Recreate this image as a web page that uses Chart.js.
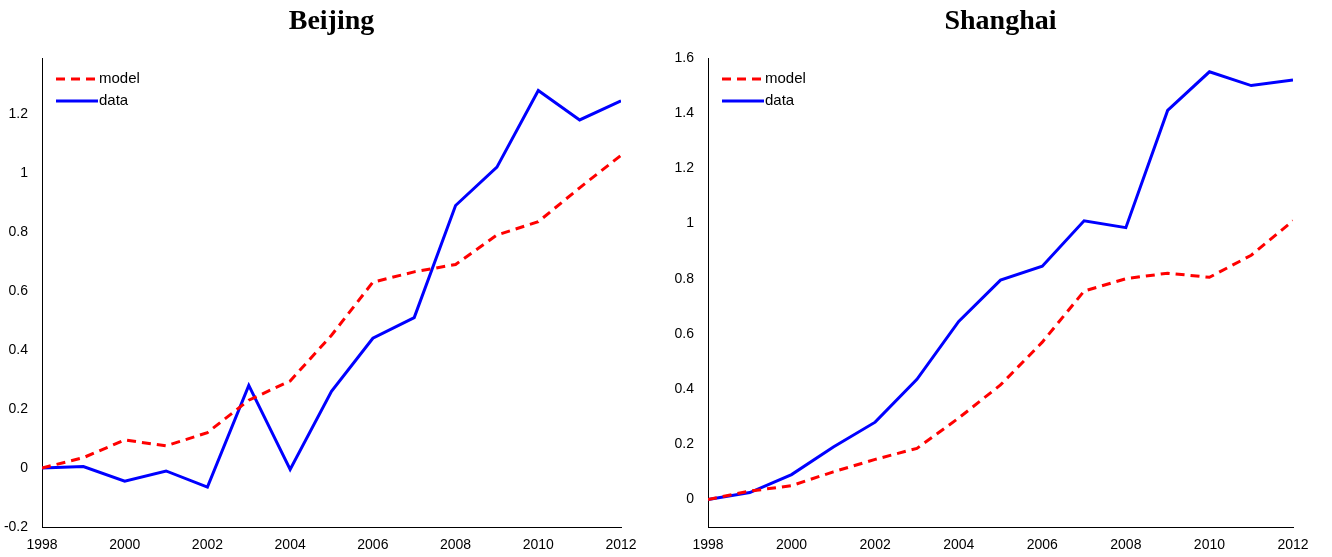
<!DOCTYPE html>
<html>
<head>
<meta charset="utf-8">
<script src="https://cdn.jsdelivr.net/npm/chart.js@4/dist/chart.umd.min.js"></script>
<style>
  body { margin: 0; background: #fff; }
  .wrap { display: flex; width: 1332px; height: 557px; }
  .box { position: relative; width: 666px; height: 557px; }
</style>
</head>
<body>
<div class="wrap">
  <div class="box"><canvas id="bj"></canvas></div>
  <div class="box"><canvas id="sh"></canvas></div>
</div>
<script>
const years = [1998, 1999, 2000, 2001, 2002, 2003, 2004, 2005, 2006, 2007, 2008, 2009, 2010, 2011, 2012];

const beijingModel = [0, 0.035, 0.095, 0.075, 0.12, 0.23, 0.295, 0.45, 0.63, 0.665, 0.69, 0.79, 0.835, 0.95, 1.06];
const beijingData = [0, 0.005, -0.045, -0.01, -0.065, 0.28, -0.005, 0.26, 0.44, 0.51, 0.89, 1.02, 1.28, 1.18, 1.245];

const shanghaiModel = [0, 0.03, 0.05, 0.10, 0.145, 0.185, 0.295, 0.415, 0.57, 0.755, 0.80, 0.82, 0.805, 0.885, 1.01];
const shanghaiData = [0, 0.025, 0.09, 0.19, 0.28, 0.435, 0.645, 0.795, 0.845, 1.01, 0.985, 1.41, 1.55, 1.50, 1.52];

const FONT = "'Liberation Sans', Arial, sans-serif";

// title + MATLAB-style legend drawn in the top-left corner
const decor = {
  id: 'decor',
  afterDraw(chart, args, opts) {
    const ctx = chart.ctx, a = chart.chartArea;
    ctx.save();
    ctx.fillStyle = '#000';
    ctx.font = "bold 28px 'Liberation Serif', 'DejaVu Serif', serif";
    ctx.textAlign = 'center';
    ctx.textBaseline = 'middle';
    ctx.fillText(opts.title, (a.left + a.right) / 2, 22);
    ctx.font = '15px ' + FONT;
    ctx.textAlign = 'left';
    chart.data.datasets.forEach((ds, i) => {
      const y = 79 + i * 22;
      ctx.strokeStyle = ds.borderColor;
      ctx.lineWidth = 3;
      ctx.setLineDash(ds.borderDash || []);
      ctx.beginPath();
      ctx.moveTo(a.left + 14, y);
      ctx.lineTo(a.left + 56, y);
      ctx.stroke();
      ctx.setLineDash([]);
      ctx.fillStyle = '#000';
      ctx.fillText(ds.label, a.left + 57, y);
    });
    ctx.restore();
  }
};

function makeChart(id, title, model, data, ymin, ymax, rightPad) {
  new Chart(document.getElementById(id), {
    type: 'line',
    data: {
      datasets: [
        { label: 'model', data: years.map((x, i) => ({ x, y: model[i] })),
          borderColor: '#ff0000', borderDash: [9, 6], borderWidth: 3, pointRadius: 0, tension: 0 },
        { label: 'data', data: years.map((x, i) => ({ x, y: data[i] })),
          borderColor: '#0000ff', borderWidth: 3, pointRadius: 0, tension: 0 }
      ]
    },
    options: {
      responsive: true,
      maintainAspectRatio: false,
      animation: false,
      layout: { padding: { top: 58, right: rightPad, left: 0, bottom: 0 } },
      plugins: { legend: { display: false }, tooltip: { enabled: false }, decor: { title } },
      scales: {
        x: {
          type: 'linear', min: 1998, max: 2012,
          grid: { display: false },
          border: { display: true, color: '#000', width: 1 },
          ticks: { stepSize: 2, color: '#000', font: { family: FONT, size: 14 }, padding: 2,
                   callback: v => String(v) },
          afterFit: s => { s.height = 30; }
        },
        y: {
          min: ymin, max: ymax,
          grid: { display: false },
          border: { display: true, color: '#000', width: 1 },
          ticks: { stepSize: 0.2, color: '#000', font: { family: FONT, size: 14 }, padding: 6,
                   callback: v => String(+v.toFixed(1)) },
          afterBuildTicks: s => {
            s.ticks = s.ticks.filter(t => Math.abs(t.value / 0.2 - Math.round(t.value / 0.2)) < 1e-6);
          },
          afterFit: s => { s.width = 42; }
        }
      }
    },
    plugins: [decor]
  });
}

makeChart('bj', 'Beijing', beijingModel, beijingData, -0.2, 1.39, 45);
makeChart('sh', 'Shanghai', shanghaiModel, shanghaiData, -0.1, 1.6, 39);
</script>
</body>
</html>
